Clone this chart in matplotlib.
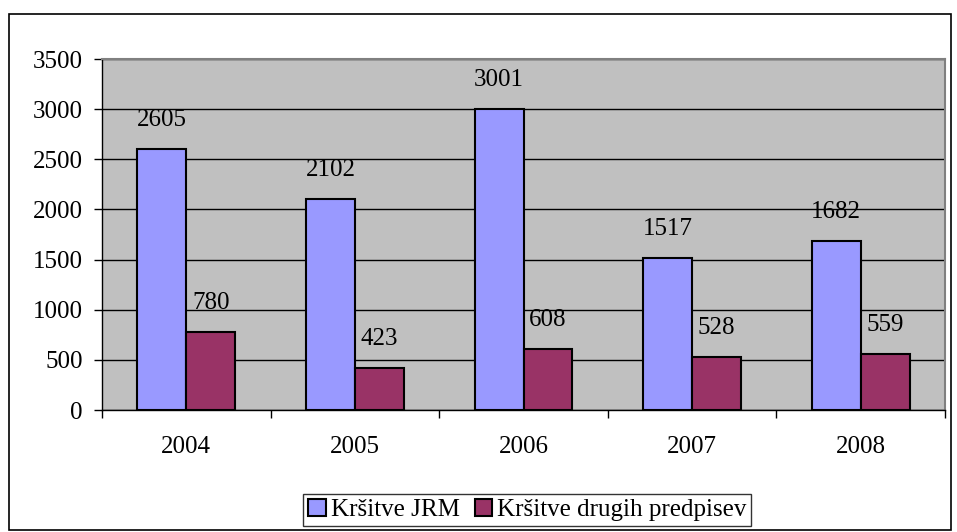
import matplotlib
matplotlib.use("Agg")
import matplotlib.pyplot as plt
import numpy as np
from matplotlib.patches import Rectangle

years = ["2004", "2005", "2006", "2007", "2008"]
jrm = [2605, 2102, 3001, 1517, 1682]
other = [780, 423, 608, 528, 559]
series_names = ["Kršitve JRM", "Kršitve drugih predpisev"]

plt.rcParams["font.family"] = ["Liberation Serif", "DejaVu Serif"]
FS = 18

fig = plt.figure(figsize=(9.57, 5.32), dpi=100)
ax = fig.add_axes([0.1066, 0.2293, 0.8809, 0.6597])
ax.set_facecolor("#C0C0C0")

x = np.arange(len(years))
w = 0.29
b1 = ax.bar(x - w / 2, jrm, w, color="#9999FF", edgecolor="black", lw=1.5, zorder=3, label=series_names[0])
b2 = ax.bar(x + w / 2, other, w, color="#993366", edgecolor="black", lw=1.5, zorder=3, label=series_names[1])

for bars, vals in ((b1, jrm), (b2, other)):
  for r, v in zip(bars, vals):
    ax.annotate(str(v), (r.get_x() + r.get_width() / 2, v), xytext=(0, 13),
                textcoords="offset points", ha="center", va="bottom", fontsize=FS)

ax.set_xlim(-0.5, len(years) - 0.5)
ax.set_ylim(0, 3500)
ax.set_yticks(np.arange(0, 3501, 500))
ax.yaxis.grid(True, color="black", lw=1, zorder=1)
ax.set_xticks(x)
ax.set_xticklabels(years, fontsize=FS)
ax.set_xticks(np.arange(-0.5, len(years)), minor=True)
ax.tick_params(axis="x", which="major", length=0, pad=19)
ax.tick_params(axis="x", which="minor", length=6, width=1, direction="out")
ax.tick_params(axis="y", labelsize=FS, length=6, width=1, direction="out", pad=8)
for s in ("top", "right"):
  ax.spines[s].set_color("#808080")
  ax.spines[s].set_linewidth(1.5)
for s in ("left", "bottom"):
  ax.spines[s].set_color("black")
  ax.spines[s].set_linewidth(1)

leg = fig.legend(handles=[b1, b2], loc="center", bbox_to_anchor=(0.551, 0.041), ncol=2,
                 fontsize=FS, frameon=True, fancybox=False, edgecolor="black",
                 handlelength=0.7, handleheight=0.7, handletextpad=0.2,
                 columnspacing=0.6, borderpad=0.2, borderaxespad=0)
leg.get_frame().set_linewidth(1)

fig.patches.append(Rectangle((9 / 957, 2 / 532), 942 / 957, 516 / 532, transform=fig.transFigure,
                             fill=False, edgecolor="black", lw=1.2))

fig.savefig("out.png", dpi=100)
